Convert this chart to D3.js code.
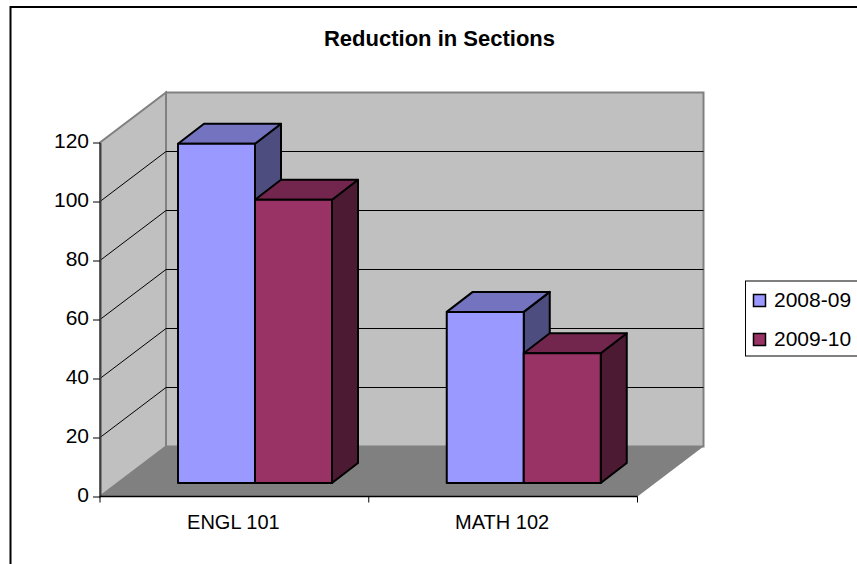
<!DOCTYPE html>
<html>
<head>
<meta charset="utf-8">
<script src="https://cdn.jsdelivr.net/npm/d3@7"></script>
<style>
  html, body { margin: 0; padding: 0; background: #fff; overflow: hidden; }
  svg { display: block; }
  text { font-family: "Liberation Sans", Arial, sans-serif; fill: #000; }
</style>
</head>
<body>
<svg id="chart" width="857" height="564"></svg>
<script>
var categories = ["ENGL 101", "MATH 102"];
var seriesNames = ["2008-09", "2009-10"];
var values2008 = [115, 58];
var values2009 = [96, 44];
var yTicks = [0, 20, 40, 60, 80, 100, 120];

var frontColors = ["#9999ff", "#993366"],
    topColors = ["#7373bf", "#73264d"],
    sideColors = ["#4d4d80", "#4d1a33"];

var svg = d3.select("#chart");

// plot box: front edge of the floor, then how far the back wall is pushed
var plotLeft = 100, plotRight = 637.5, plotBottom = 496.5, plotTop = 142.5,
    wallDx = 66, wallDy = -50,
    barDx = 26, barDy = -20,
    barFrontX = 78, barFrontY = -13.5,
    barWidth = 77;

var y = d3.scaleLinear().domain([0, 120]).range([plotBottom, plotTop]);
var x0 = d3.scaleBand().domain(categories).range([plotLeft, plotRight]);
var x1 = d3.scaleBand().domain(seriesNames).range([0, barWidth * 2]);

function poly(points) { return points.map(function(p) { return p.join(","); }).join(" "); }

// frame runs off the right and bottom of the picture
svg.append("rect")
    .attr("x", 10.5).attr("y", 7).attr("width", 900).attr("height", 600)
    .attr("fill", "#fff").attr("stroke", "#000").attr("stroke-width", 2);

// side wall
svg.append("polygon")
    .attr("points", poly([[plotLeft, y(0)], [plotLeft + wallDx, y(0) + wallDy], [plotLeft + wallDx, y(120) + wallDy], [plotLeft, y(120)]]))
    .attr("fill", "#c0c0c0").attr("stroke", "#808080").attr("stroke-width", 2);

// back wall
svg.append("rect")
    .attr("x", plotLeft + wallDx).attr("y", y(120) + wallDy)
    .attr("width", plotRight - plotLeft).attr("height", y(0) - y(120))
    .attr("fill", "#c0c0c0").attr("stroke", "#808080").attr("stroke-width", 2);

// floor
svg.append("polygon")
    .attr("points", poly([[plotLeft, y(0)], [plotRight, y(0)], [plotRight + wallDx, y(0) + wallDy], [plotLeft + wallDx, y(0) + wallDy]]))
    .attr("fill", "#808080");

// gridlines run along the side wall and then across the back wall
var gridTicks = yTicks.filter(function(d) { return d > 0 && d < 120; });
svg.append("g").selectAll("polyline")
    .data(gridTicks)
  .enter().append("polyline")
    .attr("points", function(d) {
      return poly([[plotLeft, y(d)], [plotLeft + wallDx, y(d) + wallDy], [plotRight + wallDx, y(d) + wallDy]]);
    })
    .attr("fill", "none").attr("stroke", "#000").attr("stroke-width", 1);

// value axis
var yAxis = svg.append("g")
    .attr("transform", "translate(" + plotLeft + ",0)")
    .call(d3.axisLeft(y).tickValues(yTicks).tickSize(7).tickSizeOuter(0).tickPadding(4));
yAxis.select(".domain").attr("stroke", "#404040").attr("stroke-width", 2);
yAxis.selectAll("text")
    .attr("dy", "0.24em")
    .style("font-size", "21px").style("font-family", "Liberation Sans");

// category axis
var xAxis = svg.append("g")
    .attr("transform", "translate(0," + plotBottom + ")");
xAxis.append("line").attr("x1", plotLeft).attr("x2", plotRight).attr("stroke", "#000").attr("stroke-width", 1.5);
xAxis.selectAll("line.tick")
    .data(x0.domain().map(function(d) { return x0(d); }).concat([plotRight]))
  .enter().append("line")
    .attr("class", "tick")
    .attr("x1", function(d) { return d; }).attr("x2", function(d) { return d; })
    .attr("y1", 0).attr("y2", 6)
    .attr("stroke", "#000");
xAxis.selectAll("text")
    .data(categories)
  .enter().append("text")
    .attr("x", function(d) { return x0(d) + x0.bandwidth() / 2 - 1; })
    .attr("y", 32.5)
    .attr("text-anchor", "middle")
    .style("font-size", "20px")
    .text(function(d) { return d; });

// bars, drawn in series order so the red box overlaps the blue side
var rows = [];
categories.forEach(function(c, i) {
  rows.push({cat: c, s: 0, v: values2008[i]});
  rows.push({cat: c, s: 1, v: values2009[i]});
});

var bar = svg.append("g").selectAll("g")
    .data(rows)
  .enter().append("g");

function bx(d) { return x0(d.cat) + barFrontX + x1(seriesNames[d.s]); }
function by(d) { return y(d.v) + barFrontY; }
function bb() { return y(0) + barFrontY; }

bar.append("polygon")
    .attr("points", function(d) {
      var r = bx(d) + barWidth;
      return poly([[r, by(d)], [r + barDx, by(d) + barDy], [r + barDx, bb() + barDy], [r, bb()]]);
    })
    .attr("fill", function(d) { return sideColors[d.s]; });
bar.append("polygon")
    .attr("points", function(d) {
      var l = bx(d), r = l + barWidth;
      return poly([[l, by(d)], [l + barDx, by(d) + barDy], [r + barDx, by(d) + barDy], [r, by(d)]]);
    })
    .attr("fill", function(d) { return topColors[d.s]; });
bar.append("rect")
    .attr("x", bx).attr("y", by)
    .attr("width", barWidth)
    .attr("height", function(d) { return bb() - by(d); })
    .attr("fill", function(d) { return frontColors[d.s]; });
bar.selectAll("polygon, rect")
    .attr("stroke", "#000").attr("stroke-width", 2).attr("stroke-linejoin", "round");

// title
svg.append("text")
    .attr("x", 439.5).attr("y", 45.5)
    .attr("text-anchor", "middle")
    .style("font-size", "22px").style("font-weight", "bold")
    .text("Reduction in Sections");

// legend, also cut by the right edge
svg.append("rect")
    .attr("x", 745.5).attr("y", 281).attr("width", 150).attr("height", 75)
    .attr("fill", "#fff").attr("stroke", "#000").attr("stroke-width", 1);
var legend = svg.append("g").selectAll("g")
    .data(seriesNames)
  .enter().append("g")
    .attr("transform", function(d, i) { return "translate(0," + (300.5 + i * 39) + ")"; });
legend.append("rect")
    .attr("x", 753.5).attr("y", -6).attr("width", 12).attr("height", 12)
    .attr("fill", function(d, i) { return frontColors[i]; })
    .attr("stroke", "#000").attr("stroke-width", 1.5);
legend.append("text")
    .attr("x", 774).attr("y", 6.5)
    .style("font-size", "21px")
    .text(function(d) { return d; });
</script>
</body>
</html>
